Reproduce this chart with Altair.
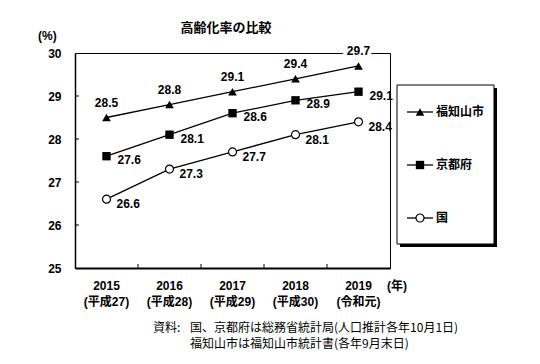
import altair as alt
import pandas as pd

years = [2015, 2016, 2017, 2018, 2019]
era_labels = ["(平成27)", "(平成28)", "(平成29)", "(平成30)", "(令和元)"]
series_names = ["福知山市", "京都府", "国"]
fukuchiyama = [28.5, 28.8, 29.1, 29.4, 29.7]
kyoto = [27.6, 28.1, 28.6, 28.9, 29.1]
kuni = [26.6, 27.3, 27.7, 28.1, 28.4]
y_ticks = [25, 26, 27, 28, 29, 30]
title_text = "高齢化率の比較"
unit_y = "(%)"
unit_x = "(年)"
source_head = "資料:"
source_line1 = "国、京都府は総務省統計局(人口推計各年10月1日)"
source_line2 = "福知山市は福知山市統計書(各年9月末日)"

NUM_FONT = "Liberation Sans, Noto Sans CJK JP"
JP_FONT = "Noto Sans CJK JP"

df = pd.DataFrame({
    "year": years * 3,
    "value": fukuchiyama + kyoto + kuni,
    "series": [n for n in series_names for _ in years],
})
xlab = pd.DataFrame({"year": years, "era": era_labels})
one = pd.DataFrame({"k": [0]})
ytk = pd.DataFrame({"value": y_ticks[1:-1]})
xtk = pd.DataFrame({"year": [y + 0.5 for y in years[:-1]]})

x_enc = alt.X("year:Q", scale=alt.Scale(domain=[years[0] - 0.5, years[-1] + 0.5], nice=False, zero=False),
              axis=alt.Axis(labels=False, ticks=False, title=None, grid=False,
                            domainColor="black", domainWidth=2))
y_enc = alt.Y("value:Q", scale=alt.Scale(domain=[y_ticks[0], y_ticks[-1]], nice=False, zero=False),
              axis=alt.Axis(values=y_ticks, ticks=False, grid=False, title=None, labelPadding=14,
                            labelFont=NUM_FONT, labelFontSize=12, labelFontWeight="bold",
                            labelColor="black", domainColor="black", domainWidth=1.5))

layers = []

# inward ticks
layers.append(alt.Chart(ytk).mark_rule(color="black", strokeWidth=1).encode(
    y=y_enc, x=alt.value(0), x2=alt.value(4)))
layers.append(alt.Chart(xtk).mark_rule(color="black", strokeWidth=1).encode(
    x=x_enc, y=alt.value(215), y2=alt.value(211)))

# lines
layers.append(alt.Chart(df).mark_line(color="black", strokeWidth=1.3).encode(
    x=x_enc, y=y_enc, detail="series:N"))

def sel(name):
    return alt.datum.series == name

# markers
layers.append(alt.Chart(df).transform_filter(sel(series_names[0])).mark_point(
    shape="triangle-up", filled=True, color="black", size=75, opacity=1).encode(x=x_enc, y=y_enc))
layers.append(alt.Chart(df).transform_filter(sel(series_names[1])).mark_point(
    shape="square", filled=True, color="black", size=70, opacity=1).encode(x=x_enc, y=y_enc))
layers.append(alt.Chart(df).transform_filter(sel(series_names[2])).mark_point(
    shape="circle", filled=True, fill="white", stroke="black", strokeWidth=1.2, size=64,
    opacity=1).encode(x=x_enc, y=y_enc))

# data labels
lbl_font = dict(font=NUM_FONT, fontSize=12, fontWeight="bold", baseline="middle")
tri = alt.Chart(df).transform_filter(sel(series_names[0]))
layers.append(tri.mark_text(align="center", dy=-15, stroke="white", strokeWidth=8, fill="white",
                            **lbl_font).encode(x=x_enc, y=y_enc, text=alt.Text("value:Q", format=".1f")))
layers.append(tri.mark_text(align="center", dy=-15, color="black",
                            **lbl_font).encode(x=x_enc, y=y_enc, text=alt.Text("value:Q", format=".1f")))
layers.append(alt.Chart(df).transform_filter(sel(series_names[1])).mark_text(
    align="left", dx=11, dy=4, color="black", **lbl_font).encode(
    x=x_enc, y=y_enc, text=alt.Text("value:Q", format=".1f")))
layers.append(alt.Chart(df).transform_filter(sel(series_names[2])).mark_text(
    align="left", dx=10, dy=5, color="black", **lbl_font).encode(
    x=x_enc, y=y_enc, text=alt.Text("value:Q", format=".1f")))

# x category labels
layers.append(alt.Chart(xlab).mark_text(color="black", **lbl_font).encode(
    x=x_enc, y=alt.value(233), text="year:N"))
layers.append(alt.Chart(xlab).mark_text(color="black", **lbl_font).encode(
    x=x_enc, y=alt.value(249), text="era:N"))

# unit labels and title
layers.append(alt.Chart(one).mark_text(color="black", align="left", text=unit_x, **lbl_font).encode(
    x=alt.value(312), y=alt.value(233)))
layers.append(alt.Chart(one).mark_text(color="black", align="left", text=unit_y, **lbl_font).encode(
    x=alt.value(-37), y=alt.value(-17)))
layers.append(alt.Chart(one).mark_text(color="black", align="center", text=title_text,
                                       font=JP_FONT, fontSize=13, fontWeight="bold",
                                       baseline="middle").encode(
    x=alt.value(151), y=alt.value(-25)))

# source notes
src_font = dict(font=JP_FONT, fontSize=12, fontWeight="normal", baseline="middle", color="black", align="left")
layers.append(alt.Chart(one).mark_text(text=source_head, **src_font).encode(x=alt.value(78), y=alt.value(275)))
layers.append(alt.Chart(one).mark_text(text=source_line1, **src_font).encode(x=alt.value(115), y=alt.value(275)))
layers.append(alt.Chart(one).mark_text(text=source_line2, **src_font).encode(x=alt.value(115), y=alt.value(291)))

# legend box with shadow
layers.append(alt.Chart(one).mark_rect(color="black").encode(
    x=alt.value(325), x2=alt.value(422), y=alt.value(35), y2=alt.value(194)))
layers.append(alt.Chart(one).mark_rect(fill="white", stroke="black", strokeWidth=1).encode(
    x=alt.value(322), x2=alt.value(419), y=alt.value(32), y2=alt.value(191)))

legend_rows = [59, 112, 165]
marker_styles = [
    dict(shape="triangle-up", filled=True, color="black", size=75),
    dict(shape="square", filled=True, color="black", size=70),
    dict(shape="circle", filled=True, fill="white", stroke="black", strokeWidth=1.2, size=64),
]
for name, ry, ms in zip(series_names, legend_rows, marker_styles):
    layers.append(alt.Chart(one).mark_rule(color="black", strokeWidth=1.3).encode(
        x=alt.value(332), x2=alt.value(358), y=alt.value(ry)))
    layers.append(alt.Chart(one).mark_point(opacity=1, **ms).encode(
        x=alt.value(345), y=alt.value(ry)))
    layers.append(alt.Chart(one).mark_text(text=name, font=JP_FONT, fontSize=12, fontWeight="bold",
                                           baseline="middle", align="left", color="black").encode(
        x=alt.value(361), y=alt.value(ry)))

chart = alt.layer(*layers).properties(
    width=315, height=215,
    autosize=alt.AutoSizeParams(type="none"),
    padding={"left": 67, "top": 45, "right": 142, "bottom": 88},
).configure_view(stroke="black", strokeWidth=1)

chart.save("out.html", embed_options={"renderer": "svg", "actions": False})
